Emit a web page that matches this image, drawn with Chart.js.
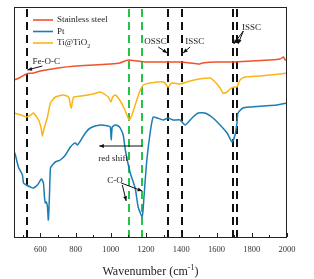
<!DOCTYPE html>
<html>
<head>
<meta charset="utf-8">
<script src="https://cdn.jsdelivr.net/npm/chart.js@4"></script>
<style>
  body { margin: 0; background: #fff; }
  canvas { display: block; }
</style>
</head>
<body>
<canvas id="ftir" width="314" height="279"></canvas>
<script>
//data
const steelX = [450, 480, 520, 560, 600, 700, 800, 900, 1000, 1050, 1080, 1100, 1150, 1200, 1300, 1400, 1450, 1500, 1520, 1600, 1700, 1800, 1900, 1960, 1980, 1990, 2000];
const steelY = [157, 159, 163, 164, 166, 169, 171, 172, 173, 174, 176, 177, 176, 175, 175, 175, 174, 173, 174, 175, 175, 176, 177, 178, 180, 177, 177];

const ptX = [450, 458, 475, 498, 504, 521, 543, 560, 583, 606, 617, 623, 628, 634, 640, 645, 651, 657, 668, 685, 713, 742, 770, 787, 798, 810, 827, 855, 883, 940, 985, 997, 1002, 1008, 1025, 1042, 1053, 1070, 1082, 1110, 1138, 1155, 1178, 1184, 1195, 1206, 1223, 1240, 1263, 1297, 1325, 1354, 1393, 1422, 1461, 1495, 1535, 1580, 1620, 1660, 1688, 1705, 1716, 1722, 1750, 1790, 1864, 1943, 2000];
const ptY = [86, 82, 70, 62, 54, 52, 50, 49, 52, 58, 54, 40, 34, 35, 30, 17, 40, 69, 72, 75, 77, 82, 90, 93, 94, 92, 96, 104, 109, 112, 111, 110, 97, 110, 112, 111, 109, 102, 87, 64, 49, 30, 20, 30, 57, 80, 104, 120, 119, 117, 119, 117, 117, 112, 119, 124, 124, 119, 112, 104, 95, 102, 114, 124, 129, 130, 131, 132, 134];

const tiX = [450, 470, 490, 520, 545, 560, 590, 605, 611, 620, 640, 657, 685, 730, 760, 770, 776, 782, 790, 830, 900, 940, 985, 1000, 1010, 1025, 1050, 1080, 1104, 1120, 1138, 1167, 1184, 1223, 1300, 1325, 1345, 1393, 1450, 1500, 1563, 1592, 1620, 1637, 1660, 1677, 1700, 1716, 1733, 1762, 1847, 1960, 2000];
const tiY = [124, 123, 122, 120, 122, 124, 117, 108, 101, 108, 120, 134, 140, 142, 140, 132, 129, 136, 140, 141, 143, 145, 140, 135, 140, 142, 137, 127, 117, 122, 132, 147, 152, 154, 155, 150, 154, 153, 156, 158, 159, 155, 149, 144, 145, 148, 150, 150, 157, 160, 161, 163, 164];

const seriesNames = ['Stainless steel', 'Pt', 'Ti@TiO2'];
const tickValues = [600, 800, 1000, 1200, 1400, 1600, 1800, 2000];
const minorTicks = [500, 700, 900, 1100, 1300, 1500, 1700, 1900];
const blackLines = [521, 1325, 1403, 1694, 1714];
const greenLines = [1104, 1178];

//color
const colorSteel = '#f0522b';
const colorPt = '#1b7db3';
const colorTi = '#fbb516';
const colorGreen = '#27c24a';

const serif = '"Liberation Serif", "DejaVu Serif", serif';

const toPoints = (xs, ys) => xs.map((x, i) => ({ x: x, y: ys[i] }));

const extras = {
    id: 'extras',
    beforeDatasetsDraw(chart) {
        const { ctx, chartArea: { top, bottom } } = chart;
        const xs = chart.scales.x;
        ctx.save();
        ctx.lineWidth = 2;
        ctx.setLineDash([8, 5]);
        const vline = (v, color) => {
            const px = Math.round(xs.getPixelForValue(v));
            ctx.strokeStyle = color;
            ctx.beginPath();
            ctx.moveTo(px, top + 2);
            ctx.lineTo(px, bottom);
            ctx.stroke();
        };
        blackLines.forEach(v => vline(v, '#111'));
        greenLines.forEach(v => vline(v, colorGreen));
        ctx.restore();
    },
    afterDraw(chart) {
        const { ctx, chartArea: { top, bottom, left, right } } = chart;
        const xs = chart.scales.x;
        const ys = chart.scales.y;
        const P = (x, y) => [xs.getPixelForValue(x), ys.getPixelForValue(y)];
        ctx.save();

        // frame
        ctx.strokeStyle = '#222';
        ctx.lineWidth = 1;
        ctx.strokeRect(left + 0.5, top + 0.5, right - left - 1, bottom - top);

        // ticks inside
        ctx.beginPath();
        tickValues.forEach(v => {
            const px = Math.round(xs.getPixelForValue(v)) + 0.5;
            ctx.moveTo(px, bottom);
            ctx.lineTo(px, bottom - 4);
        });
        minorTicks.forEach(v => {
            const px = Math.round(xs.getPixelForValue(v)) + 0.5;
            ctx.moveTo(px, bottom);
            ctx.lineTo(px, bottom - 2);
        });
        ctx.stroke();

        // legend
        const colors = [colorSteel, colorPt, colorTi];
        ctx.font = '9px ' + serif;
        ctx.textBaseline = 'middle';
        ctx.fillStyle = '#222';
        seriesNames.forEach((name, i) => {
            const y = 20 + i * 11.5;
            ctx.strokeStyle = colors[i];
            ctx.lineWidth = 1.6;
            ctx.beginPath();
            ctx.moveTo(33, y);
            ctx.lineTo(53, y);
            ctx.stroke();
            if (name === 'Ti@TiO2') {
                ctx.fillText('Ti@TiO', 57, y);
                const w = ctx.measureText('Ti@TiO').width;
                ctx.font = '6px ' + serif;
                ctx.fillText('2', 57 + w, y + 3);
                ctx.font = '9px ' + serif;
            } else {
                ctx.fillText(name, 57, y);
            }
        });

        // annotations
        const arrow = (from, to) => {
            const [x1, y1] = P(from[0], from[1]);
            const [x2, y2] = P(to[0], to[1]);
            const a = Math.atan2(y2 - y1, x2 - x1);
            ctx.strokeStyle = '#111';
            ctx.fillStyle = '#111';
            ctx.lineWidth = 1;
            ctx.beginPath();
            ctx.moveTo(x1, y1);
            ctx.lineTo(x2, y2);
            ctx.stroke();
            ctx.beginPath();
            ctx.moveTo(x2, y2);
            ctx.lineTo(x2 - 5 * Math.cos(a - 0.4), y2 - 5 * Math.sin(a - 0.4));
            ctx.lineTo(x2 - 5 * Math.cos(a + 0.4), y2 - 5 * Math.sin(a + 0.4));
            ctx.closePath();
            ctx.fill();
        };
        const label = (text, x, y) => {
            const [px, py] = P(x, y);
            ctx.fillStyle = '#222';
            ctx.font = '9px ' + serif;
            ctx.textBaseline = 'middle';
            ctx.textAlign = 'left';
            ctx.fillText(text, px, py);
        };
        label('Fe-O-C', 555, 175);
        arrow([611, 171], [526, 167]);
        label('OSSC', 1189, 195);
        arrow([1269, 190], [1320, 184]);
        label('ISSC', 1422, 195);
        arrow([1450, 190], [1410, 184]);
        label('ISSC', 1745, 209);
        arrow([1752, 206], [1697, 193]);
        arrow([1752, 206], [1722, 193]);
        label('red shift', 929, 78);
        arrow([1178, 91], [934, 91]);
        label('C-O', 980, 56);
        arrow([1059, 54], [1178, 46]);
        arrow([1065, 52], [1087, 36]);

        // axis title
        ctx.fillStyle = '#222';
        ctx.textBaseline = 'alphabetic';
        ctx.font = '12px ' + serif;
        const t1 = 'Wavenumber (cm';
        const w1 = ctx.measureText(t1).width;
        ctx.font = '8px ' + serif;
        const w2 = ctx.measureText('-1').width;
        ctx.font = '12px ' + serif;
        const w3 = ctx.measureText(')').width;
        let x0 = (left + right) / 2 - (w1 + w2 + w3) / 2;
        const yb = 275;
        ctx.fillText(t1, x0, yb);
        ctx.font = '8px ' + serif;
        ctx.fillText('-1', x0 + w1, yb - 5);
        ctx.font = '12px ' + serif;
        ctx.fillText(')', x0 + w1 + w2, yb);
        ctx.restore();
    }
};

const ctx = document.getElementById('ftir');
const ftirChart = new Chart(ctx, {
    type: 'line',
    data: {
        datasets: [
            { label: seriesNames[0], data: toPoints(steelX, steelY), borderColor: colorSteel },
            { label: seriesNames[1], data: toPoints(ptX, ptY), borderColor: colorPt },
            { label: seriesNames[2], data: toPoints(tiX, tiY), borderColor: colorTi }
        ]
    },
    options: {
        responsive: false,
        animation: false,
        devicePixelRatio: 1,
        elements: {
            point: { radius: 0 },
            line: { borderWidth: 1.5, tension: 0.2 }
        },
        layout: { padding: { left: 14, top: 7, right: 27, bottom: 0 } },
        scales: {
            x: {
                type: 'linear',
                min: 450,
                max: 2000,
                afterBuildTicks: (scale) => {
                    scale.ticks = tickValues.map(v => ({ value: v }));
                },
                afterFit: (scale) => { scale.height = 42; },
                grid: { display: false, drawTicks: false },
                border: { display: false },
                ticks: {
                    padding: 8,
                    maxRotation: 0,
                    autoSkip: false,
                    color: '#333',
                    font: { size: 8.5, family: serif },
                    callback: (v) => String(v)
                }
            },
            y: {
                display: false,
                min: 0,
                max: 230
            }
        },
        plugins: {
            legend: { display: false },
            tooltip: { enabled: false }
        }
    },
    plugins: [extras]
});
</script>
</body>
</html>
